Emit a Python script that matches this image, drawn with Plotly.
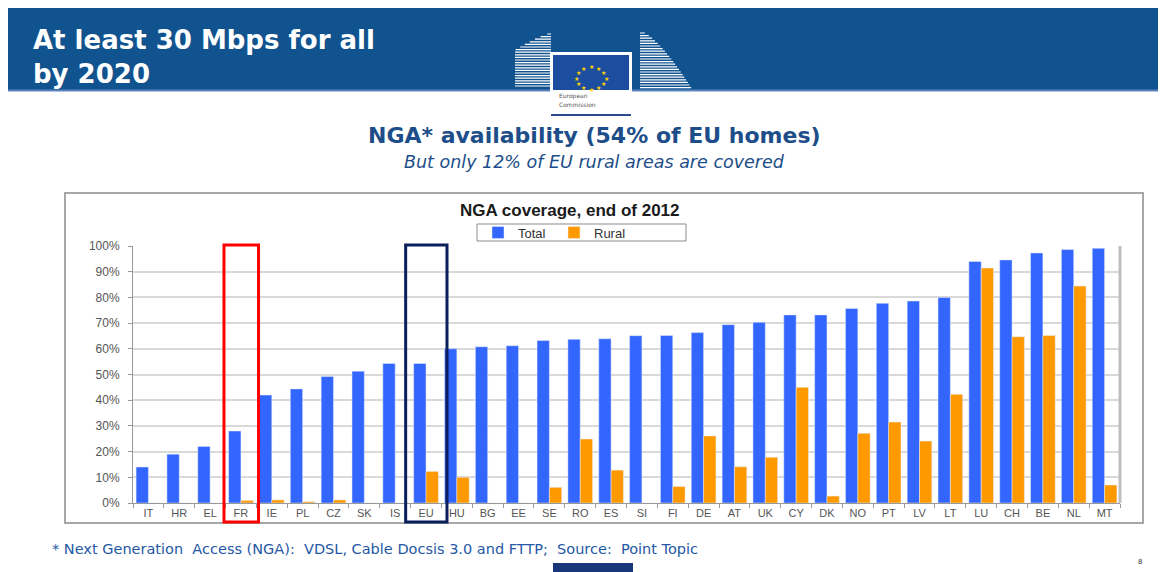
import math
import plotly.graph_objects as go

# ---------------- data ----------------
countries = ["IT", "HR", "EL", "FR", "IE", "PL", "CZ", "SK", "IS", "EU", "HU", "BG", "EE",
             "SE", "RO", "ES", "SI", "FI", "DE", "AT", "UK", "CY", "DK", "NO", "PT", "LV",
             "LT", "LU", "CH", "BE", "NL", "MT"]
total = [14, 19, 22, 28, 42, 44.4, 49.2, 51.3, 54.3, 54.3, 60, 60.8, 61.2,
         63.2, 63.7, 63.9, 65.1, 65.2, 66.3, 69.4, 70.3, 73.2, 73.2, 75.7, 77.7, 78.6,
         80, 94, 94.6, 97.3, 98.6, 99.1]
rural = [0, 0, 0, 1, 1.2, 0.5, 1.2, 0, 0, 12.3, 10, 0, 0,
         6.1, 24.9, 12.8, 0, 6.4, 26.1, 14.1, 17.8, 45, 2.7, 27.1, 31.5, 24.1,
         42.3, 91.4, 64.7, 65.2, 84.4, 7]
y_ticks = [0, 10, 20, 30, 40, 50, 60, 70, 80, 90, 100]
y_labels = [f"{v}%" for v in y_ticks]
highlight_red = "FR"
highlight_navy = "EU"

# ---------------- layout geometry (page pixels) ----------------
OFF = 8                      # page body margin
W, H = 1166 - OFF, 572 - OFF
PL, PR, PT, PB = 133, 1120, 246, 503   # plot area in page pixels
ML = PL - OFF
MR = W - (PR - OFF)
MT = PT - OFF
MB = H - (PB - OFF)


def px(x):
    return (x - PL) / (PR - PL)


def py(y):
    return (PB - y) / (PB - PT)


SLIDE_FONT = "DejaVu Sans"
CHART_FONT = "Liberation Sans"
HEADER_BLUE = "#10538F"
TEXT_BLUE = "#1D4E89"

fig = go.Figure()
fig.add_trace(go.Bar(x=countries, y=total, name="Total", marker_color="#3366FF"))
fig.add_trace(go.Bar(x=countries, y=rural, name="Rural", marker_color="#FF9900"))

shapes = []
annotations = []

# header band
shapes.append(dict(type="rect", xref="paper", yref="paper", x0=px(5), x1=px(1170),
                   y0=py(90), y1=py(7), fillcolor=HEADER_BLUE, line_width=0, layer="below"))
shapes.append(dict(type="rect", xref="paper", yref="paper", x0=px(5), x1=px(1170),
                   y0=py(91.5), y1=py(89.5), fillcolor="#5A86BC", line_width=0, layer="below"))

# logo: buildings (white stripes)
left_path = ""
y = 34.0
while y <= 88:
    xs = 551 - 36 * ((y - 33) / 17) ** 0.8 if y < 50 else 515
    left_path += f"M{px(xs)},{py(y)} L{px(551)},{py(y)} "
    y += 2.6
shapes.append(dict(type="path", xref="paper", yref="paper", path=left_path,
                   line=dict(color="white", width=1.2)))
right_path = ""
y = 33.0
while y <= 89:
    xe = 640 + 52 * ((y - 31) / 58) ** 0.7
    right_path += f"M{px(640)},{py(y)} L{px(xe)},{py(y)} "
    y += 2.6
shapes.append(dict(type="path", xref="paper", yref="paper", path=right_path,
                   line=dict(color="white", width=1.2)))

# logo: flag + label
shapes.append(dict(type="rect", xref="paper", yref="paper", x0=px(550), x1=px(632),
                   y0=py(113), y1=py(52), fillcolor="white", line_width=0))
shapes.append(dict(type="rect", xref="paper", yref="paper", x0=px(553), x1=px(629),
                   y0=py(90), y1=py(55), fillcolor="#1C4D9E", line_width=0))
shapes.append(dict(type="line", xref="paper", yref="paper", x0=px(551), x1=px(631),
                   y0=py(115), y1=py(115), line=dict(color="#2A4B8D", width=2)))
cx, cy = 591, 72.5
for k in range(12):
    a = 2 * math.pi * k / 12
    annotations.append(dict(x=px(cx + 15 * math.cos(a)), y=py(cy + 11.5 * math.sin(a)),
                            xref="paper", yref="paper", text="★", showarrow=False,
                            font=dict(size=6, color="#FFD400", family=SLIDE_FONT)))
annotations.append(dict(x=px(557), y=py(96), xref="paper", yref="paper", text="European",
                        showarrow=False, xanchor="left", yanchor="middle",
                        font=dict(size=6, color="#555555", family=SLIDE_FONT)))
annotations.append(dict(x=px(557), y=py(104), xref="paper", yref="paper", text="Commission",
                        showarrow=False, xanchor="left", yanchor="middle",
                        font=dict(size=6, color="#555555", family=SLIDE_FONT)))

# header title (two lines in one text block)
annotations.append(dict(x=px(31), y=py(57.5), xref="paper", yref="paper",
                        text="<b>At least 30 Mbps for all<br>by 2020</b>", showarrow=False,
                        xanchor="left", yanchor="middle", align="left",
                        font=dict(size=26, color="white", family=SLIDE_FONT)))

# subtitles
annotations.append(dict(x=px(594), y=py(135), xref="paper", yref="paper",
                        text="<b>NGA* availability (54% of EU homes)</b>", showarrow=False,
                        xanchor="center", yanchor="middle",
                        font=dict(size=22, color=TEXT_BLUE, family=SLIDE_FONT)))
annotations.append(dict(x=px(594), y=py(162), xref="paper", yref="paper",
                        text="<i>But only 12% of EU rural areas are covered</i>", showarrow=False,
                        xanchor="center", yanchor="middle",
                        font=dict(size=17.5, color=TEXT_BLUE, family=SLIDE_FONT)))

# chart box
shapes.append(dict(type="rect", xref="paper", yref="paper", x0=px(65), x1=px(1143),
                   y0=py(523), y1=py(193), fillcolor="rgba(0,0,0,0)",
                   line=dict(color="#8C8C8C", width=1.5), layer="below"))
# right edge of plot area
shapes.append(dict(type="line", xref="paper", yref="paper", x0=1, x1=1, y0=0, y1=1,
                   line=dict(color="#BFBFBF", width=3)))
# legend frame
shapes.append(dict(type="rect", xref="paper", yref="paper", x0=px(477), x1=px(686),
                   y0=py(241), y1=py(224), fillcolor="white",
                   line=dict(color="#8C8C8C", width=1), layer="below"))

annotations.append(dict(x=px(570), y=py(210), xref="paper", yref="paper",
                        text="<b>NGA coverage, end of 2012</b>", showarrow=False,
                        xanchor="center", yanchor="middle",
                        font=dict(size=17, color="#1A1A1A", family=CHART_FONT)))

# highlight boxes
i_r = countries.index(highlight_red)
i_n = countries.index(highlight_navy)
shapes.append(dict(type="rect", xref="x", yref="paper", x0=i_r - 0.55, x1=i_r + 0.57,
                   y0=py(522), y1=py(245), line=dict(color="#FF0000", width=3),
                   fillcolor="rgba(0,0,0,0)", layer="above"))
shapes.append(dict(type="rect", xref="x", yref="paper", x0=i_n - 0.66, x1=i_n + 0.68,
                   y0=py(522), y1=py(245), line=dict(color="#0A1F5C", width=3),
                   fillcolor="rgba(0,0,0,0)", layer="above"))

# footer
annotations.append(dict(x=px(50), y=py(549), xref="paper", yref="paper",
                        text="* Next Generation  Access (NGA):  VDSL, Cable Docsis 3.0 and FTTP;  Source:  Point Topic",
                        showarrow=False, xanchor="left", yanchor="middle",
                        font=dict(size=14.5, color="#2457A5", family=SLIDE_FONT)))
shapes.append(dict(type="rect", xref="paper", yref="paper", x0=px(553), x1=px(633),
                   y0=py(575), y1=py(563), fillcolor="#17377A", line_width=0))
annotations.append(dict(x=px(1140), y=py(562), xref="paper", yref="paper", text="8",
                        showarrow=False, xanchor="center", yanchor="middle",
                        font=dict(size=7, color="#333333", family=SLIDE_FONT)))

fig.update_layout(
    width=W, height=H,
    margin=dict(l=ML, r=MR, t=MT, b=MB, pad=0),
    paper_bgcolor="white", plot_bgcolor="white",
    barmode="group", bargap=0.2, bargroupgap=0,
    font=dict(family=CHART_FONT, color="#555555"),
    shapes=shapes, annotations=annotations,
    legend=dict(orientation="h", x=px(478), xanchor="left", y=py(232.5), yanchor="middle",
                borderwidth=0, bgcolor="rgba(0,0,0,0)",
                font=dict(size=13, color="#333333", family=CHART_FONT),
                entrywidth=31, itemwidth=30, tracegroupgap=0),
    showlegend=True,
)
fig.update_xaxes(type="category", showgrid=False, showline=True, linecolor="#999999",
                 linewidth=1, ticks="outside", tickson="boundaries", ticklen=4,
                 tickcolor="#999999", tickfont=dict(size=11, color="#555555", family=CHART_FONT),
                 fixedrange=True)
fig.update_yaxes(range=[0, 100], tickvals=y_ticks, ticktext=y_labels, showgrid=True,
                 gridcolor="#D9D9D9", gridwidth=1.5, showline=True, linecolor="#999999",
                 linewidth=1, ticks="outside", ticklen=4, tickcolor="#999999",
                 ticklabelstandoff=6,
                 tickfont=dict(size=12, color="#555555", family=CHART_FONT),
                 zeroline=False, fixedrange=True)

fig.write_html("out.html")
